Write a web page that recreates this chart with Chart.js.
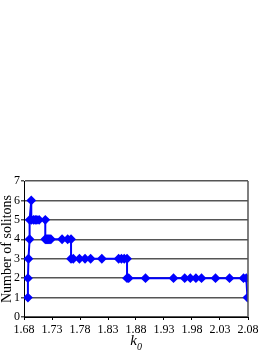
<!DOCTYPE html>
<html><head><meta charset="utf-8">
<script src="https://cdn.jsdelivr.net/npm/chart.js@4/dist/chart.umd.min.js"></script>
<style>html,body{margin:0;padding:0;background:#fff}#wrap{position:relative;width:273px;height:353px}</style>
</head><body><div id="wrap"><canvas id="c" width="273" height="353"></canvas></div>
<script>
const kValues = [1.687,1.687,1.688,1.690,1.690,1.693,1.693,1.697,1.700,1.703,1.707,1.718,1.718,1.720,1.722,1.724,1.726,1.728,1.748,1.758,1.764,1.764,1.768,1.779,1.789,1.799,1.819,1.849,1.854,1.859,1.864,1.864,1.867,1.897,1.947,1.967,1.977,1.987,1.997,2.022,2.047,2.072,2.077,2.079];
const solitons = [1,2,3,4,5,6,5,5,5,5,5,5,4,4,4,4,4,4,4,4,4,3,3,3,3,3,3,3,3,3,3,2,2,2,2,2,2,2,2,2,2,2,2,1];
const xTicks = [1.68,1.73,1.78,1.83,1.88,1.93,1.98,2.03,2.08];
const yTicks = [0,1,2,3,4,5,6,7];
const xTitle = 'k', xTitleSub = '0';
const yTitle = 'Number of solitons';

const pts = kValues.map((k,i)=>({x:k,y:solitons[i]}));
const serif = "'Liberation Serif','Times New Roman',serif";

const extras = {
  id:'extras',
  afterDraw(chart){
    const {ctx, chartArea:a} = chart;
    ctx.save();
    ctx.strokeStyle = '#555'; ctx.lineWidth = 1.5;
    ctx.beginPath(); ctx.moveTo(a.right, a.top); ctx.lineTo(a.right, a.bottom); ctx.stroke();
    const cx = (a.left + a.right)/2;
    ctx.fillStyle = '#000';
    ctx.textBaseline = 'alphabetic';
    ctx.font = 'italic 15px ' + serif;
    ctx.textAlign = 'right';
    ctx.fillText(xTitle, cx + 1, 345);
    ctx.font = 'italic 10px ' + serif;
    ctx.textAlign = 'left';
    ctx.fillText(xTitleSub, cx + 1, 350);
    ctx.restore();
  }
};

new Chart(document.getElementById('c'), {
  type:'scatter',
  data:{datasets:[{
    data: pts, showLine:true, borderColor:'#0000ff', backgroundColor:'#0000ff',
    borderWidth:2, pointStyle:'rectRot', pointRadius:3.5, pointHoverRadius:3.5
  }]},
  options:{
    responsive:false, animation:false, devicePixelRatio:1,
    layout:{padding:{top:181, right:25, left:0, bottom:0}},
    plugins:{legend:{display:false}, tooltip:{enabled:false}},
    scales:{
      x:{
        type:'linear', min:1.68, max:2.08,
        afterBuildTicks: s => { s.ticks = xTicks.map(v=>({value:v})); },
        afterFit: s => { s.height = 36; },
        ticks:{ color:'#000', font:{family:serif, size:12}, padding:3, maxRotation:0, autoSkip:false,
          callback: v => v.toFixed(2) },
        grid:{ drawOnChartArea:false, tickLength:3, color:'#000' },
        border:{ color:'#000', width:1 }
      },
      y:{
        min:0, max:7,
        afterBuildTicks: s => { s.ticks = yTicks.map(v=>({value:v})); },
        afterFit: s => { s.width = 24; },
        ticks:{ color:'#000', font:{family:serif, size:12}, padding:1 },
        grid:{ color:'#555', lineWidth:1.5, tickLength:3 },
        border:{ color:'#000', width:1 },
        title:{ display:true, text:yTitle, color:'#000', font:{family:serif, size:14, lineHeight:1.0}, padding:0 }
      }
    }
  },
  plugins:[extras]
});
</script></body></html>
